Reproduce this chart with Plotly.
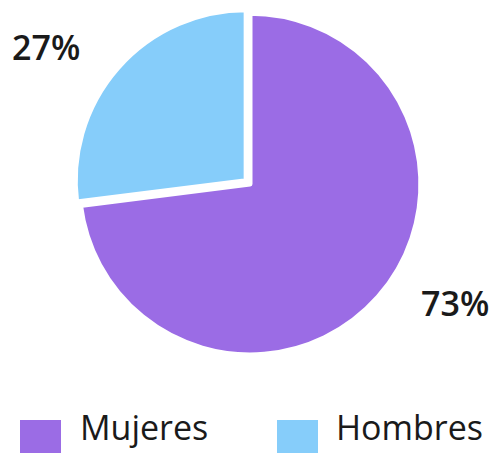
import plotly.graph_objects as go

labels = ["Mujeres", "Hombres"]
values = [73, 27]
colors = ["#9B6CE5", "#86CDFA"]

total = sum(values)
pcts = [f"{round(v / total * 100)}%" for v in values]

fig = go.Figure()
fig.add_trace(go.Pie(
    labels=labels,
    values=values,
    sort=False,
    direction="clockwise",
    rotation=0,
    pull=[0, 0.03],
    marker=dict(colors=colors, line=dict(color="white", width=5)),
    textinfo="none",
    hoverinfo="label+percent",
    showlegend=False,
    domain=dict(x=[60 / 493, 440 / 493], y=[1 - 360 / 453, 1 - 8 / 453]),
))

font_lbl = dict(family="Open Sans, Noto Sans, sans-serif", size=34, color="#1a1a1a", weight=600)
# percentage labels
fig.add_annotation(x=10 / 493, y=1 - 47 / 453, xref="paper", yref="paper",
                   text=pcts[1], showarrow=False, font=font_lbl,
                   xanchor="left", yanchor="middle")
fig.add_annotation(x=491 / 493, y=1 - 303 / 453, xref="paper", yref="paper",
                   text=pcts[0], showarrow=False, font=font_lbl,
                   xanchor="right", yanchor="middle")

# custom legend
leg_font = dict(family="Open Sans, Noto Sans, sans-serif", size=34, color="#1a1a1a")
leg_items = [(20, 78), (277, 334)]
for (sx, tx), lab, col in zip(leg_items, labels, colors):
    fig.add_shape(type="rect", xref="paper", yref="paper",
                  x0=sx / 493, x1=(sx + 41) / 493,
                  y0=0, y1=1 - 420 / 453,
                  fillcolor=col, line=dict(width=0))
    fig.add_annotation(x=tx / 493, y=1 - 427 / 453, xref="paper", yref="paper",
                       text=lab, showarrow=False, font=leg_font,
                       xanchor="left", yanchor="middle")

fig.update_layout(
    width=493, height=453,
    margin=dict(l=0, r=0, t=0, b=0),
    paper_bgcolor="white", plot_bgcolor="white",
)

fig.write_html(
    "out.html",
    config={"displayModeBar": False},
    post_script="document.body.style.margin='0';document.body.style.overflow='hidden';",
)
